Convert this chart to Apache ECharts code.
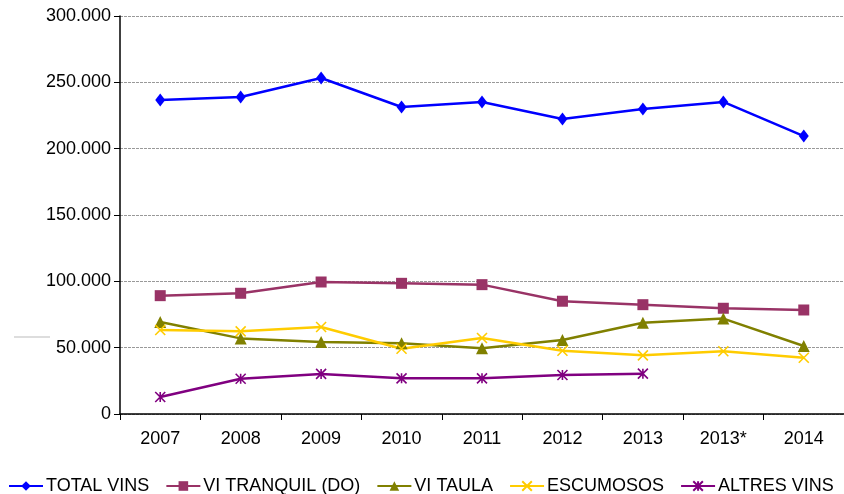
<!DOCTYPE html>
<html>
<head>
<meta charset="UTF-8">
<title>Vins</title>
<style>
html,body{margin:0;padding:0;background:#fff;}
#main{width:844px;height:494px;}
</style>
</head>
<body>
<div id="main"></div>
<script src="https://cdn.jsdelivr.net/npm/echarts@6/dist/echarts.min.js"></script>
<script>
var years = ['2007', '2008', '2009', '2010', '2011', '2012', '2013', '2013*', '2014'];
var totalVins = [236700, 239000, 253300, 231400, 235200, 222400, 229900, 235200, 209500];
var viTranquil = [89200, 91000, 99500, 98500, 97500, 85000, 82400, 79700, 78400];
var viTaula = [69300, 57000, 54300, 53300, 49500, 55800, 68800, 71900, 51300];
var escumosos = [63300, 62300, 65600, 49200, 57300, 47700, 44200, 47300, 42400];
var altresVins = [12800, 26600, 30200, 26900, 26900, 29400, 30400, null, null];

var crossPath = 'path://M0,0L10,10M10,0L0,10';
var starPath = 'path://M0,0L10,10M10,0L0,10M5,0L5,10';
var fontFam = 'Liberation Sans, Arial, sans-serif';

function fmt(v) {
  return String(v).replace(/\B(?=(\d{3})+(?!\d))/g, '.');
}

function mk(name, data, color, symbol, size, stroked) {
  return {
    name: name,
    type: 'line',
    data: data,
    symbol: symbol,
    symbolSize: size,
    showAllSymbol: true,
    connectNulls: false,
    lineStyle: {color: color, width: 2.5},
    itemStyle: stroked ? {color: 'rgba(0,0,0,0)', borderColor: color, borderWidth: 1.6} : {color: color},
    emphasis: {disabled: true}
  };
}

var chart = echarts.init(document.getElementById('main'));
chart.setOption({
  animation: false,
  backgroundColor: '#fff',
  grid: {left: 120, top: 16, width: 729, height: 398},
  legend: {
    bottom: -3,
    left: 8,
    itemWidth: 34,
    itemHeight: 12,
    itemGap: 16,
    padding: [2, 0, 2, 0],
    textStyle: {fontFamily: fontFam, fontSize: 18, color: '#000', padding: [0, 0, 0, -2]},
    data: ['TOTAL VINS', 'VI TRANQUIL (DO)', 'VI TAULA', 'ESCUMOSOS', 'ALTRES VINS']
  },
  xAxis: {
    type: 'category',
    data: years,
    boundaryGap: true,
    axisLine: {lineStyle: {color: '#000', width: 1.5}},
    axisTick: {show: true, length: 6, lineStyle: {color: '#000'}},
    axisLabel: {fontFamily: fontFam, fontSize: 18, color: '#000', margin: 16}
  },
  yAxis: {
    type: 'value',
    min: 0,
    max: 300000,
    interval: 50000,
    axisLine: {show: true, lineStyle: {color: '#000', width: 1.5}},
    axisTick: {show: true, length: 6, lineStyle: {color: '#000'}},
    axisLabel: {fontFamily: fontFam, fontSize: 18, color: '#000', margin: 9, formatter: fmt},
    splitLine: {show: true, lineStyle: {color: '#999', type: [3, 1], width: 1}}
  },
  graphic: [{
    type: 'line',
    shape: {x1: 14, y1: 337, x2: 50, y2: 337},
    style: {stroke: '#bbb', lineWidth: 1}
  }],
  series: [
    mk('TOTAL VINS', totalVins, '#0000ff', 'diamond', [10, 13]),
    mk('VI TRANQUIL (DO)', viTranquil, '#993366', 'rect', 11),
    mk('VI TAULA', viTaula, '#808000', 'triangle', 12),
    mk('ESCUMOSOS', escumosos, '#ffcc00', crossPath, 10, true),
    mk('ALTRES VINS', altresVins, '#800080', starPath, 10, true)
  ]
});
</script>
</body>
</html>
